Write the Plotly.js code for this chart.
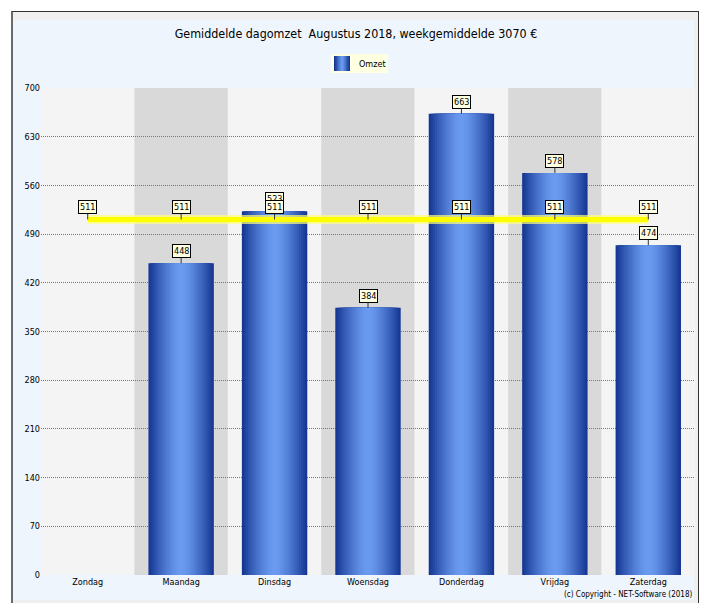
<!DOCTYPE html>
<html><head><meta charset="utf-8">
<script src="https://cdn.plot.ly/plotly-3.0.1.min.js"></script>
<style>
html,body{margin:0;padding:0;background:#fff;width:703px;height:603px;overflow:hidden}
#frame{position:absolute;left:11px;top:11px;width:688px;height:600px;border-left:2px solid #6a6a6a;border-top:1px solid #333;border-right:1px solid #333;background:#efefef;box-sizing:border-box}
#inner{position:absolute;left:13px;top:20px;width:681px;height:580px;background:#eef5fc}
#chart{position:absolute;left:0;top:0;width:703px;height:603px}
</style></head>
<body>
<div id="frame"></div><div id="inner"></div>
<div id="chart"></div>
<script>
const days = ['Zondag','Maandag','Dinsdag','Woensdag','Donderdag','Vrijdag','Zaterdag'];
const omzet = [null, 448, 523, 384, 663, 578, 474];
const weekgemiddelde = [511, 511, 511, 511, 511, 511, 511];
const yTickVals = [0, 70, 140, 210, 280, 350, 420, 490, 560, 630, 700];
const titleText = 'Gemiddelde dagomzet  Augustus 2018, weekgemiddelde 3070 €';
const legendName = 'Omzet';
const copyright = '(c) Copyright - NET-Software (2018)';

const FONT = "'DejaVu Sans Condensed', 'DejaVu Sans', sans-serif";

function mix(a, b, t) {
  const r = Math.round(a[0] + (b[0] - a[0]) * t);
  const g = Math.round(a[1] + (b[1] - a[1]) * t);
  const bl = Math.round(a[2] + (b[2] - a[2]) * t);
  return 'rgb(' + r + ',' + g + ',' + bl + ')';
}
const dark = [22, 56, 148], light = [106, 154, 240];
const N = 16, W = 0.70;
const traces = [];
for (let k = 0; k < N; k++) {
  const t = k / (N - 1);
  const f = 1 - Math.pow(1 - t, 1.4);
  traces.push({
    type: 'bar', x: days, y: omzet,
    width: W * (N - k) / N,
    marker: {color: mix(dark, light, f), line: {width: 0}},
    name: legendName, showlegend: false, hoverinfo: 'skip'
  });
}
traces.push({
  type: 'scatter', mode: 'lines', x: days, y: weekgemiddelde,
  line: {color: 'rgba(255,255,120,0.7)', width: 9}, showlegend: false, hoverinfo: 'skip'
});
traces.push({
  type: 'scatter', mode: 'lines', x: days, y: weekgemiddelde,
  line: {color: '#ffff00', width: 5}, showlegend: false, hoverinfo: 'skip'
});

const shapes = days.map((d, i) => ({
  type: 'rect', xref: 'x', yref: 'paper', x0: i - 0.5, x1: i + 0.5, y0: 0, y1: 1,
  fillcolor: i % 2 ? '#d9d9d9' : '#f4f4f4', line: {width: 0}, layer: 'below'
}));
// legend box (px -> paper: x=(px-41)/654, y=(575-py)/487)
const px = v => (v - 41) / 654, py = v => (575 - v) / 487;
shapes.push({type: 'rect', xref: 'paper', yref: 'paper', x0: px(331), x1: px(388), y0: py(73), y1: py(54),
  fillcolor: '#ffffe1', line: {width: 0}, layer: 'above'});
const sw = 6;
for (let k = 0; k < sw; k++) {
  const half = 8 * (sw - k) / sw;
  shapes.push({type: 'rect', xref: 'paper', yref: 'paper', x0: px(342 - half), x1: px(342 + half),
    y0: py(71), y1: py(56), fillcolor: mix(dark, light, k / (sw - 1)), line: {width: 0}, layer: 'above'});
}

function label(x, y) {
  return {
    x: x, y: y, xref: 'x', yref: 'y', text: String(y),
    showarrow: true, arrowhead: 0, arrowwidth: 1, arrowcolor: '#333',
    ax: 0, ay: -12, standoff: 0,
    bgcolor: '#ffffe1', bordercolor: '#000', borderwidth: 1, borderpad: 1,
    font: {family: FONT, size: 9, color: '#000'}
  };
}
const annotations = [];
days.forEach((d, i) => { if (omzet[i] !== null) annotations.push(label(d, omzet[i])); });
days.forEach((d, i) => annotations.push(label(d, weekgemiddelde[i])));
annotations.push({
  xref: 'paper', yref: 'paper', x: px(357), y: py(63.5), xanchor: 'left', yanchor: 'middle',
  text: legendName, showarrow: false, font: {family: FONT, size: 9, color: '#000'}
});
annotations.push({
  xref: 'paper', yref: 'paper', x: px(694), y: py(594), xanchor: 'right', yanchor: 'middle',
  text: copyright, showarrow: false, font: {family: FONT, size: 8, color: '#000'}
});

const layout = {
  width: 703, height: 603,
  margin: {l: 41, r: 8, t: 88, b: 28},
  paper_bgcolor: 'rgba(0,0,0,0)', plot_bgcolor: '#f4f4f4',
  barmode: 'overlay', showlegend: false,
  title: {text: titleText, x: 356 / 703, xanchor: 'center', xref: 'container', y: 1 - 34 / 603, yanchor: 'middle',
          font: {family: FONT, size: 12.4, color: '#000'}},
  xaxis: {type: 'category', categoryorder: 'array', categoryarray: days, range: [-0.5, 6.5],
          showgrid: false, zeroline: false, showline: false, ticks: '',
          tickfont: {family: FONT, size: 9, color: '#000'}, fixedrange: true},
  yaxis: {range: [0, 700], tickvals: yTickVals, ticktext: yTickVals.map(String),
          showgrid: true, gridcolor: '#777', griddash: '1px,1px', gridwidth: 1,
          zeroline: false, showline: false, ticks: '',
          tickfont: {family: FONT, size: 9, color: '#000'}, fixedrange: true},
  shapes: shapes,
  annotations: annotations
};
Plotly.newPlot('chart', traces, layout, {staticPlot: true, displayModeBar: false});
</script>
</body></html>
